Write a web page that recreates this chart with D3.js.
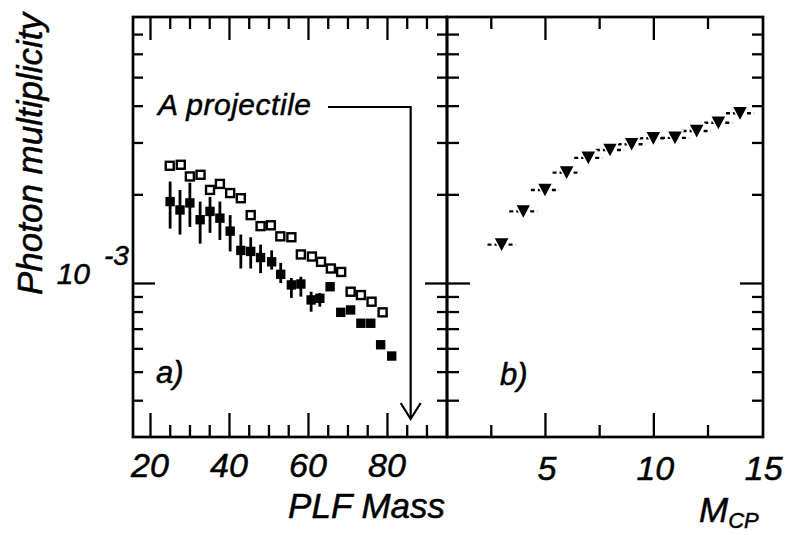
<!DOCTYPE html>
<html><head><meta charset="utf-8">
<script src="https://cdn.jsdelivr.net/npm/d3@7"></script>
<style>
html,body{margin:0;padding:0;background:#fff;}
svg text{font-family:"Liberation Sans",Arial,Helvetica,sans-serif;font-style:italic;fill:#000;stroke:#000;stroke-width:0.5px;}
</style></head>
<body>
<svg id="c" width="786" height="535"></svg>
<script>
// ---- data ----
const massOpen = [25.0,27.8,30.1,32.8,35.2,37.7,40.3,43.0,45.5,48.0,50.6,53.0,55.8,58.2,61.0,63.3,65.8,68.4,70.8,73.4,76.1,78.9];
const multOpen = [2.50e-3,2.52e-3,2.30e-3,2.33e-3,2.07e-3,2.17e-3,2.02e-3,1.94e-3,1.70e-3,1.56e-3,1.57e-3,1.44e-3,1.43e-3,1.25e-3,1.23e-3,1.18e-3,1.12e-3,1.09e-3,9.34e-4,9.10e-4,8.64e-4,7.95e-4];

const massFilled = [25.1,27.6,30.1,32.7,35.2,37.7,40.3,43.0,45.5,48.0,50.8,53.1,55.8,58.2,60.8,63.0,65.6,68.3,70.8,73.4,75.9,78.4,81.2];
const multFilled = [1.89e-3,1.77e-3,1.87e-3,1.64e-3,1.75e-3,1.66e-3,1.50e-3,1.29e-3,1.28e-3,1.22e-3,1.18e-3,1.07e-3,9.85e-4,9.92e-4,8.76e-4,8.87e-4,9.71e-4,7.95e-4,8.10e-4,7.30e-4,7.30e-4,6.17e-4,5.65e-4];
const errLoFilled = [1.53e-3,1.46e-3,1.55e-3,1.36e-3,1.48e-3,1.40e-3,1.28e-3,1.12e-3,1.12e-3,1.08e-3,1.11e-3,1.00e-3,8.90e-4,8.99e-4,7.99e-4,8.31e-4,9.40e-4,7.80e-4,7.95e-4,7.20e-4,7.20e-4,6.10e-4,5.60e-4];
const errHiFilled = [2.21e-3,2.07e-3,2.19e-3,1.89e-3,1.96e-3,1.89e-3,1.70e-3,1.46e-3,1.43e-3,1.35e-3,1.29e-3,1.17e-3,1.04e-3,1.05e-3,9.34e-4,9.25e-4,1.00e-3,8.10e-4,8.25e-4,7.40e-4,7.40e-4,6.25e-4,5.70e-4];

const mcp = [3,4,5,6,7,8,9,10,11,12,13,14];
const multB = [1.35e-3,1.75e-3,2.07e-3,2.37e-3,2.66e-3,2.83e-3,2.96e-3,3.10e-3,3.11e-3,3.28e-3,3.50e-3,3.77e-3];

const massMajor = [20,40,60,80];
const massMinor = [25,30,35,45,50,55,65,70,75,85,90];
const mcpMajor = [5,10,15];
const mcpMinor = [2.5,7.5,12.5];
const yMajor = [1e-3];
const yMinor = [4e-4,5e-4,6e-4,7e-4,8e-4,9e-4,2e-3,3e-3,4e-3,5e-3,6e-3,7e-3];
const projectileMass = 86;

// ---- scales ----
const L = 133, M = 447, R = 763, T = 17, B = 437;
const xA = d3.scaleLinear().domain([15.7, 95.2]).range([L, M]);
const xB = d3.scaleLinear().domain([0.48, 15.06]).range([M, R]);
const y = d3.scaleLog().domain([3e-4, 8e-3]).range([B, T]);

const svg = d3.select("#c");

function ticks(g, axisFn, scale, vals, size){
  g.call(axisFn(scale).tickValues(vals).tickSize(size).tickFormat(""))
   .call(s=>s.select(".domain").remove())
   .call(s=>s.selectAll(".tick line").attr("stroke","#000").attr("stroke-width",2.3));
}
// left panel x ticks (bottom pointing up, top pointing down)
ticks(svg.append("g").attr("transform",`translate(0,${B})`), d3.axisTop, xA, massMajor, 24);
ticks(svg.append("g").attr("transform",`translate(0,${B})`), d3.axisTop, xA, massMinor, 12);
ticks(svg.append("g").attr("transform",`translate(0,${T})`), d3.axisBottom, xA, massMajor, 23);
ticks(svg.append("g").attr("transform",`translate(0,${T})`), d3.axisBottom, xA, massMinor, 12);
// right panel x ticks
ticks(svg.append("g").attr("transform",`translate(0,${B})`), d3.axisTop, xB, mcpMajor.filter(v=>v<15), 24);
ticks(svg.append("g").attr("transform",`translate(0,${B})`), d3.axisTop, xB, mcpMinor, 12);
ticks(svg.append("g").attr("transform",`translate(0,${T})`), d3.axisBottom, xB, mcpMajor.filter(v=>v<15), 23);
ticks(svg.append("g").attr("transform",`translate(0,${T})`), d3.axisBottom, xB, mcpMinor, 12);
// y ticks: left axis (pointing right), divider (both sides), right axis (pointing left)
ticks(svg.append("g").attr("transform",`translate(${L},0)`), d3.axisRight, y, yMajor, 22);
ticks(svg.append("g").attr("transform",`translate(${L},0)`), d3.axisRight, y, yMinor, 10);
ticks(svg.append("g").attr("transform",`translate(${M},0)`), d3.axisLeft, y, yMajor, 22);
ticks(svg.append("g").attr("transform",`translate(${M},0)`), d3.axisLeft, y, yMinor, 10);
ticks(svg.append("g").attr("transform",`translate(${M},0)`), d3.axisRight, y, yMajor, 23);
ticks(svg.append("g").attr("transform",`translate(${M},0)`), d3.axisRight, y, yMinor, 12);
ticks(svg.append("g").attr("transform",`translate(${R},0)`), d3.axisLeft, y, yMajor, 23);
ticks(svg.append("g").attr("transform",`translate(${R},0)`), d3.axisLeft, y, yMinor, 11);

// frames
svg.append("rect").attr("x",L).attr("y",T).attr("width",M-L).attr("height",B-T)
  .attr("fill","none").attr("stroke","#000").attr("stroke-width",2.7);
svg.append("rect").attr("x",M).attr("y",T).attr("width",R-M).attr("height",B-T)
  .attr("fill","none").attr("stroke","#000").attr("stroke-width",2.7);

// tick labels
const fsTick = 34;
svg.append("g").selectAll("text").data(massMajor).join("text")
  .attr("x",d=>xA(d)).attr("y",477).attr("text-anchor","middle")
  .attr("font-size",fsTick).text(d=>d);
svg.append("g").selectAll("text").data(mcpMajor).join("text")
  .attr("x",d=>xB(d)+2).attr("y",480).attr("text-anchor","middle")
  .attr("font-size",fsTick).text(d=>d);

// y tick label 10^-3
svg.append("text").attr("x",90).attr("y",y(1e-3)+1).attr("text-anchor","end").attr("font-size",30).text("10");
svg.append("text").attr("x",104).attr("y",y(1e-3)-18).attr("font-size",28).text("-3");

// axis titles
svg.append("text").attr("x",445).attr("y",518).attr("text-anchor","end").attr("font-size",35).text("PLF Mass");
const mt = svg.append("text").attr("x",699).attr("y",522).attr("font-size",35);
mt.append("tspan").text("M");
mt.append("tspan").attr("font-size",22).attr("dy",6).text("CP");
svg.append("text").attr("transform","translate(42,154) rotate(-90)").attr("text-anchor","middle")
  .attr("font-size",35).text("Photon multiplicity");

// panel labels
svg.append("text").attr("x",156).attr("y",383).attr("font-size",31).text("a)");
svg.append("text").attr("x",500).attr("y",385).attr("font-size",31).text("b)");

// annotation: A projectile arrow
svg.append("text").attr("x",158).attr("y",115).attr("font-size",30).attr("textLength",153).text("A projectile");
const ax = xA(projectileMass);
svg.append("path").attr("d",`M328,107 H${ax} V418`).attr("fill","none").attr("stroke","#000").attr("stroke-width",2.2);
svg.append("path").attr("d",`M${ax-10},403 L${ax},419 L${ax+10},403`).attr("fill","none").attr("stroke","#000").attr("stroke-width",2.2);

// panel a: filled squares with error bars
const filled = massFilled.map((m,i)=>({m, v:multFilled[i], lo:errLoFilled[i], hi:errHiFilled[i]}));
svg.append("g").selectAll("line").data(filled).join("line")
  .attr("x1",d=>xA(d.m)).attr("x2",d=>xA(d.m))
  .attr("y1",d=>y(d.lo)).attr("y2",d=>y(d.hi))
  .attr("stroke","#000").attr("stroke-width",2.8);
svg.append("g").selectAll("rect").data(filled).join("rect")
  .attr("x",d=>xA(d.m)-4.7).attr("y",d=>y(d.v)-4.7).attr("width",9.4).attr("height",9.4).attr("fill","#000");

// open squares
const open = massOpen.map((m,i)=>({m, v:multOpen[i]}));
svg.append("g").selectAll("rect").data(open).join("rect")
  .attr("x",d=>xA(d.m)-4.0).attr("y",d=>y(d.v)-4.0).attr("width",8.0).attr("height",8.0)
  .attr("fill","#fff").attr("stroke","#000").attr("stroke-width",2.4);

// panel b: triangles with dotted horizontal bars
const tri = mcp.map((m,i)=>({m, v:multB[i]}));
svg.append("g").selectAll("line").data(tri).join("line")
  .attr("x1",d=>xB(d.m-0.65)).attr("x2",d=>xB(d.m+0.65))
  .attr("y1",d=>y(d.v)).attr("y2",d=>y(d.v))
  .attr("stroke","#000").attr("stroke-width",2.4).attr("stroke-dasharray","4,3");
svg.append("g").selectAll("path").data(tri).join("path")
  .attr("d",d=>{const cx=xB(d.m), cy=y(d.v); return `M${cx-8},${cy-7} L${cx+8},${cy-7} L${cx},${cy+8} Z`;})
  .attr("fill","#000").attr("stroke","#fff").attr("stroke-width",1.5);
</script>
</body></html>
